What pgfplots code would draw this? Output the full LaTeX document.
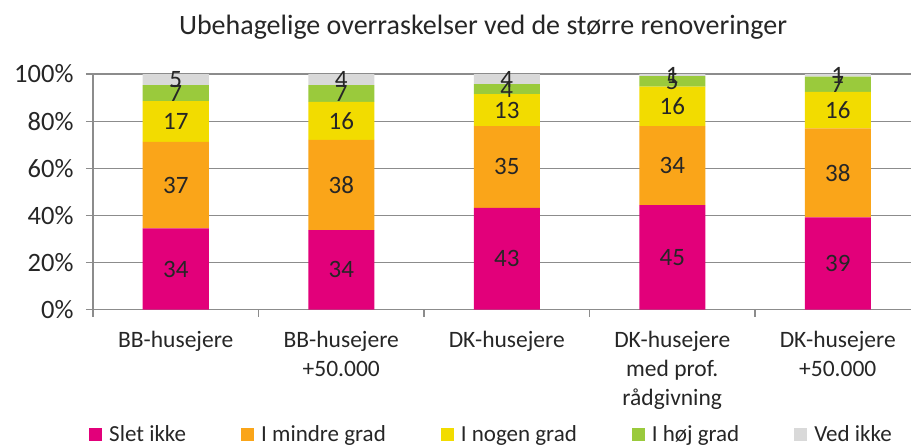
\documentclass[border=0pt]{standalone}
\usepackage{fontspec}
\setmainfont{Carlito}
\usepackage{pgfplots}
\pgfplotsset{compat=1.18}
\usepackage{pgfplotstable}

\definecolor{cpink}{RGB}{226,0,122}
\definecolor{corange}{RGB}{250,165,25}
\definecolor{cyellow}{RGB}{242,220,0}
\definecolor{cgreen}{RGB}{154,202,60}
\definecolor{cgray}{RGB}{217,217,217}
\definecolor{axisgray}{RGB}{140,140,140}
\definecolor{textgray}{RGB}{38,38,38}

\pgfplotstableread{
x y lab
0 34.4 34
1 33.7 34
2 43.2 43
3 44.3 45
4 39.1 39
}\slet
\pgfplotstableread{
x y lab
0 36.8 37
1 38.3 38
2 34.7 35
3 33.6 34
4 37.8 38
}\mindre
\pgfplotstableread{
x y lab
0 17.3 17
1 16.2 16
2 13.6 13
3 16.7 16
4 15.5 16
}\nogen
\pgfplotstableread{
x y lab
0 6.8 7
1 7.1 7
2 4.25 4
3 4.5 5
4 6.5 7
}\hoj
\pgfplotstableread{
x y lab
0 4.7 5
1 4.7 4
2 4.25 4
3 0.85 1
4 1.1 1
}\vedikke

\begin{document}
\begin{tikzpicture}
\begin{axis}[
  at={(0,0)}, anchor=south west,
  scale only axis, width=827.5pt, height=235.5pt,
  xmin=-0.5, xmax=4.5, ymin=0, ymax=100,
  ybar stacked, bar width=66pt,
  axis x line*=bottom, axis y line*=left,
  axis line style={axisgray, line width=1.2pt, -},
  tick align=outside,
  major tick length=7pt, minor tick length=7pt,
  tick style={axisgray, line width=1.2pt},
  major x tick style={draw=none},
  ytick={0,20,...,100},
  yticklabel={\pgfmathprintnumber{\tick}\%},
  /pgf/number format/assume math mode=true,
  yticklabel style={font=\fontsize{26.5}{30}\selectfont, text=textgray, xshift=-9pt},
  ymajorgrids, grid style={axisgray, line width=1.2pt},
  xtick={0,...,4},
  xticklabels={{BB-husejere},{BB-husejere\\+50.000},{DK-husejere},{DK-husejere\\med prof.\\rådgivning},{DK-husejere\\+50.000}},
  xticklabel style={align=center, font=\fontsize{23.5}{29}\selectfont, text=textgray, yshift=-11pt},
  minor xtick={-0.5,0.5,...,4.5},
  point meta=explicit symbolic,
  nodes near coords,
  every node near coord/.append style={anchor=center, font=\fontsize{25}{30}\selectfont, text=textgray},
  every axis plot/.append style={draw=none, legend image code/.code={\fill[##1] (0pt,-6.5pt) rectangle (13pt,6.5pt);}},
  legend columns=5,
  legend style={at={(0.4816,-0.529)}, anchor=center, draw=none, fill=none,
    font=\fontsize{23}{28}\selectfont, text=textgray,
    /tikz/every odd column/.append style={column sep=5pt},
    /tikz/every even column/.append style={column sep=53pt}},
]
\addplot[fill=cpink] table[x=x,y=y,meta=lab] {\slet};
\addplot[fill=corange] table[x=x,y=y,meta=lab] {\mindre};
\addplot[fill=cyellow] table[x=x,y=y,meta=lab] {\nogen};
\addplot[fill=cgreen] table[x=x,y=y,meta=lab] {\hoj};
\addplot[fill=cgray] table[x=x,y=y,meta=lab] {\vedikke};
\legend{Slet ikke, I mindre grad, I nogen grad, I høj grad, Ved ikke}
\end{axis}
\node[anchor=base, font=\fontsize{28}{33}\selectfont, text=textgray] at (390pt,274.5pt) {Ubehagelige overraskelser ved de større renoveringer};
\pgfresetboundingbox
\path[use as bounding box] (-93pt,-135.5pt) rectangle (818pt,309.5pt);
\end{tikzpicture}
\end{document}
